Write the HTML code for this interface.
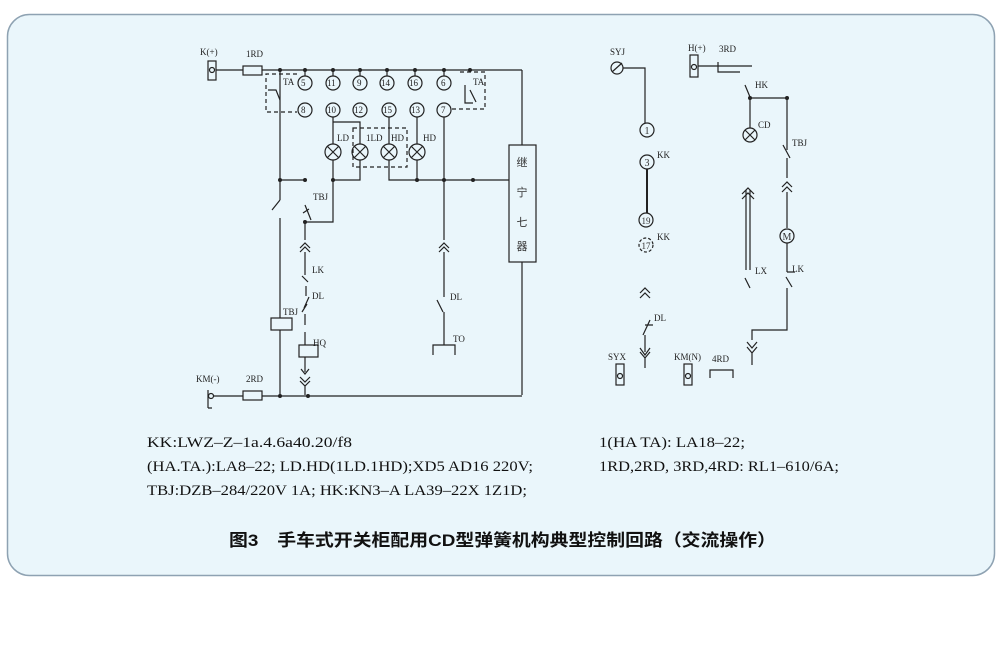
<!DOCTYPE html>
<html><head><meta charset="utf-8"><style>
html,body{margin:0;padding:0;background:#fff;width:1000px;height:665px;overflow:hidden}
svg{display:block}
</style></head><body>
<svg width="1000" height="665" viewBox="0 0 1000 665" xmlns="http://www.w3.org/2000/svg" font-family="Liberation Serif, serif">
<rect x="7.5" y="14.5" width="987" height="561" rx="22" fill="#eaf6fb" stroke="#8ea2b2" stroke-width="1.5"/>
<g stroke="#222" stroke-width="1.2" fill="none">
<!-- left top terminal -->
<rect x="208" y="61" width="8" height="19"/><circle cx="212" cy="70" r="2.5"/>
<line x1="216" y1="70" x2="522" y2="70"/>
<rect x="243" y="66" width="19" height="9" fill="#eaf6fb"/>
<line x1="522" y1="70" x2="522" y2="145"/>
<rect x="509" y="145" width="27" height="117"/>
<line x1="522" y1="262" x2="522" y2="395"/>
<!-- numbered contacts -->
<line x1="305" y1="70" x2="305" y2="76"/><line x1="333" y1="70" x2="333" y2="76"/>
<line x1="360" y1="70" x2="360" y2="76"/><line x1="387" y1="70" x2="387" y2="76"/>
<line x1="415" y1="70" x2="415" y2="76"/><line x1="444" y1="70" x2="444" y2="76"/>
<circle cx="305" cy="83" r="7"/><circle cx="333" cy="83" r="7"/><circle cx="360" cy="83" r="7"/>
<circle cx="387" cy="83" r="7"/><circle cx="415" cy="83" r="7"/><circle cx="444" cy="83" r="7"/>
<circle cx="305" cy="110" r="7"/><circle cx="333" cy="110" r="7"/><circle cx="360" cy="110" r="7"/>
<circle cx="389" cy="110" r="7"/><circle cx="417" cy="110" r="7"/><circle cx="444" cy="110" r="7"/>
<!-- dashed boxes -->
<path d="M297 74 H266 V112 H297" stroke-dasharray="4,3"/>
<path d="M460 72 H485 V109 H452" stroke-dasharray="4,3"/>
<rect x="353" y="128" width="54" height="39" stroke-dasharray="4,3"/>
<path d="M465 85 V103 H473 M470 90 L476 102"/>
<!-- left vertical x=280 -->
<line x1="280" y1="70" x2="280" y2="200"/>
<path d="M268 90 H276 L280 100"/>
<line x1="280" y1="180" x2="305" y2="180"/>
<path d="M280 200 L272 210 M280 218 V318"/>
<rect x="271" y="318" width="21" height="12"/>
<line x1="280" y1="330" x2="280" y2="395"/>
<!-- x=305 column -->
<path d="M305 205 L311 220 M303 213 L309 209 M305 222 V240"/>
<path d="M300 248 L305 243 L310 248 M300 252 L305 247 L310 252"/>
<path d="M305 252 V275 M302 276 L308 282 M306 286 V296 M309 297 L304 308 M302 312 L307 304 M305 314 V325 M305 332 V345"/>
<rect x="299" y="345" width="19" height="12"/>
<path d="M305 357 V372 M301 369 L305 374 L309 369 M300 377 L305 382 L310 377 M300 381 L305 386 L310 381 M305 386 V395"/>
<!-- lamps wiring -->
<path d="M333 117 V144 M333 160 V222 H305"/>
<path d="M333 122 H360 V144 M360 160 V180 H333"/>
<path d="M389 117 V144 M389 160 V180 H509"/>
<path d="M417 117 V144 M417 160 V180"/>
<path d="M444 117 V240 M439 248 L444 243 L449 248 M439 252 L444 247 L449 252 M444 252 V297 M437 300 L443 312 M444 312 V345 M433 355 V345 H455 V355"/>
<circle cx="333" cy="152" r="8"/><path d="M327 146 L339 158 M339 146 L327 158"/>
<circle cx="360" cy="152" r="8"/><path d="M354 146 L366 158 M366 146 L354 158"/>
<circle cx="389" cy="152" r="8"/><path d="M383 146 L395 158 M395 146 L383 158"/>
<circle cx="417" cy="152" r="8"/><path d="M411 146 L423 158 M423 146 L411 158"/>
<!-- bottom -->
<path d="M208 390 V408 M208 408 H212"/><circle cx="211" cy="396" r="2.5"/>
<line x1="213" y1="396" x2="522" y2="396"/>
<rect x="243" y="391" width="19" height="9" fill="#eaf6fb"/>
<!-- right circuit -->
<circle cx="617" cy="68" r="6"/><path d="M612 72 L622 63"/>
<path d="M623 68 H645 V123"/>
<circle cx="647" cy="130" r="7"/><circle cx="647" cy="162" r="7"/>
<path d="M647 169 V213" stroke-width="2"/>
<circle cx="646" cy="220" r="7"/><circle cx="646" cy="245" r="7" stroke-dasharray="3,2"/>
<path d="M640 293 L645 288 L650 293 M640 298 L645 293 L650 298"/>
<path d="M643 335 L650 320 M645 325 H653 M645 335 V352"/>
<path d="M640 348 L645 355 L650 348 M640 352 L645 358 L650 352 M645 358 V368"/>
<rect x="616" y="364" width="8" height="21"/><circle cx="620" cy="376" r="2.5"/>
<rect x="684" y="364" width="8" height="21"/><circle cx="688" cy="376" r="2.5"/>
<path d="M710 378 V370 H733 V378"/>
<rect x="690" y="55" width="8" height="22"/><circle cx="694" cy="67" r="2.5"/>
<path d="M698 66 H752 M718 62 V72 H740"/>
<path d="M745 85 L750 97 M750 98 H787 M750 98 V128 M787 98 V140"/>
<circle cx="750" cy="135" r="7"/><path d="M745 130 L755 140 M755 130 L745 140"/>
<path d="M787 140 V150 M783 145 L790 158 M787 158 V178"/>
<path d="M782 187 L787 182 L792 187 M782 192 L787 187 L792 192 M787 192 V228"/>
<circle cx="787" cy="236" r="7"/>
<path d="M787 243 V272 M787 272 H795 M786 277 L792 287 M787 288 V330 H752 V340"/>
<path d="M747 342 L752 348 L757 342 M747 347 L752 353 L757 347 M752 353 V365"/>
<path d="M746 190 V270 M750 190 V270 M742 194 L748 188 L754 194 M742 199 L748 193 L754 199 M745 278 L750 288"/>
</g>
<g fill="#222">
<circle cx="280" cy="70" r="2"/><circle cx="305" cy="70" r="2"/><circle cx="333" cy="70" r="2"/>
<circle cx="360" cy="70" r="2"/><circle cx="387" cy="70" r="2"/><circle cx="415" cy="70" r="2"/>
<circle cx="444" cy="70" r="2"/><circle cx="470" cy="70" r="2"/>
<circle cx="280" cy="180" r="2"/><circle cx="305" cy="180" r="2"/><circle cx="333" cy="180" r="2"/>
<circle cx="417" cy="180" r="2"/><circle cx="444" cy="180" r="2"/><circle cx="473" cy="180" r="2"/>
<circle cx="305" cy="222" r="2"/><circle cx="280" cy="396" r="2"/><circle cx="308" cy="396" r="2"/>
<circle cx="750" cy="98" r="2"/><circle cx="787" cy="98" r="2"/>
</g>
<g font-size="9" fill="#222">
<text x="200" y="55">K(+)</text><text x="246" y="57">1RD</text>
<text x="283" y="85">TA</text><text x="473" y="85">TA</text>
<text x="301" y="86">5</text><text x="327" y="86">11</text><text x="357" y="86">9</text><text x="381" y="86">14</text><text x="409" y="86">16</text><text x="441" y="86">6</text>
<text x="301" y="113">8</text><text x="327" y="113">10</text><text x="354" y="113">12</text><text x="383" y="113">15</text><text x="411" y="113">13</text><text x="441" y="113">7</text>
<text x="337" y="141">LD</text><text x="366" y="141">1LD</text><text x="391" y="141">HD</text><text x="423" y="141">HD</text>
<text x="313" y="200">TBJ</text><text x="312" y="273">LK</text><text x="312" y="299">DL</text>
<text x="283" y="315">TBJ</text><text x="313" y="346">HQ</text>
<text x="450" y="300">DL</text><text x="453" y="342">TO</text>
<text x="196" y="382">KM(-)</text><text x="246" y="382">2RD</text>
<text x="610" y="55">SYJ</text><text x="657" y="158">KK</text><text x="657" y="240">KK</text>
<text x="654" y="321">DL</text>
<text x="608" y="360">SYX</text><text x="674" y="360">KM(N)</text><text x="712" y="362">4RD</text>
<text x="688" y="51">H(+)</text><text x="719" y="52">3RD</text><text x="755" y="88">HK</text>
<text x="758" y="128">CD</text><text x="792" y="146">TBJ</text><text x="755" y="274">LX</text><text x="792" y="272">LK</text>
</g>
<g font-family="Liberation Sans, Noto Sans CJK SC, sans-serif" font-size="11" fill="#333" text-anchor="middle">
<text x="522" y="166">继</text><text x="522" y="196">宁</text><text x="522" y="226">七</text><text x="522" y="250">器</text>
<text x="647" y="134" font-family="Liberation Serif, serif" font-size="10">1</text>
<text x="647" y="166" font-family="Liberation Serif, serif" font-size="10">3</text>
<text x="646" y="224" font-family="Liberation Serif, serif" font-size="9">19</text>
<text x="646" y="249" font-family="Liberation Serif, serif" font-size="9">17</text>
<text x="787" y="240" font-family="Liberation Serif, serif" font-size="10">M</text>
</g>
<g font-size="14.5" fill="#111">
<text x="147" y="447" textLength="205" lengthAdjust="spacingAndGlyphs">KK:LWZ–Z–1a.4.6a40.20/f8</text>
<text x="147" y="471" textLength="386" lengthAdjust="spacingAndGlyphs">(HA.TA.):LA8–22; LD.HD(1LD.1HD);XD5 AD16 220V;</text>
<text x="147" y="495" textLength="380" lengthAdjust="spacingAndGlyphs">TBJ:DZB–284/220V 1A; HK:KN3–A LA39–22X 1Z1D;</text>
<text x="599" y="447" textLength="146" lengthAdjust="spacingAndGlyphs">1(HA TA): LA18–22;</text>
<text x="599" y="471" textLength="240" lengthAdjust="spacingAndGlyphs">1RD,2RD, 3RD,4RD: RL1–610/6A;</text>
</g>
<text x="229" y="546" font-family="Liberation Sans, Noto Sans CJK SC, sans-serif" font-weight="bold" font-size="17" fill="#111" textLength="547" lengthAdjust="spacingAndGlyphs">图3　手车式开关柜配用CD型弹簧机构典型控制回路（交流操作）</text>
</svg>
</body></html>
